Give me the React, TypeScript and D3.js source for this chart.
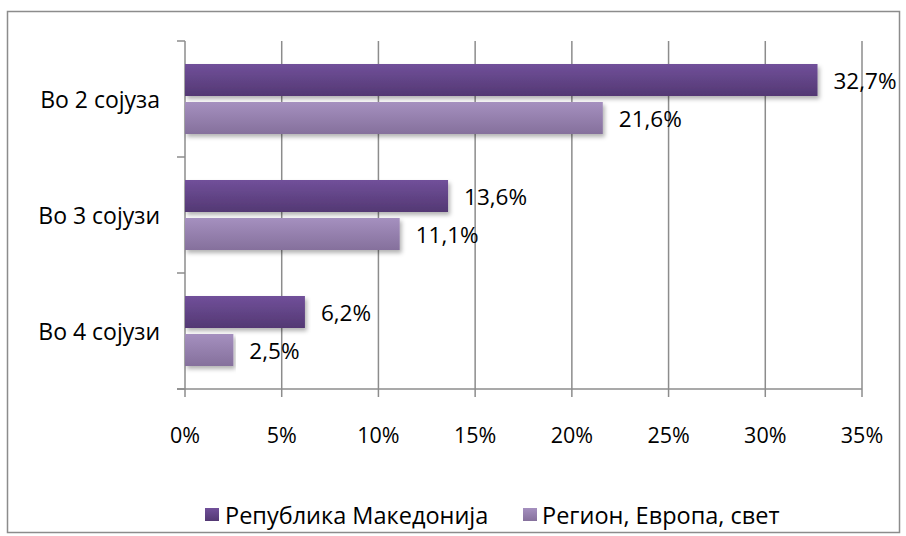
import React from "react";
import * as d3 from "d3";

const categories = ["Во 2 сојуза", "Во 3 сојузи", "Во 4 сојузи"];
const seriesNames = ["Република Македонија", "Регион, Европа, свет"];
const seriesMk = [32.7, 13.6, 6.2];
const seriesWorld = [21.6, 11.1, 2.5];
const valueLabelsMk = ["32,7%", "13,6%", "6,2%"];
const valueLabelsWorld = ["21,6%", "11,1%", "2,5%"];
const xTicks = [0, 5, 10, 15, 20, 25, 30, 35];

const W = 906, H = 536;
const left = 185, right = 862, top = 41, bottom = 389;
const font = "Open Sans, 'Noto Sans', sans-serif";

export default function App() {
  const x = d3.scaleLinear().domain([0, 35]).range([left, right]);
  const y = d3.scaleBand<string>().domain(categories).range([top, bottom]).paddingInner(0).paddingOuter(0);
  const bw = y.bandwidth();
  const barH = 32;
  const gap = 6;
  const series = [
    { vals: seriesMk, labels: valueLabelsMk, grad: "gMk" },
    { vals: seriesWorld, labels: valueLabelsWorld, grad: "gW" },
  ];
  const grid = "#8c8c8c";
  return (
    <svg width={W} height={H} style={{ position: "absolute", left: 0, top: 0 }}>
      <defs>
        <linearGradient id="gMk" x1="0" y1="0" x2="0" y2="1">
          <stop offset="0" stopColor="#71509a" />
          <stop offset="1" stopColor="#533873" />
        </linearGradient>
        <linearGradient id="gW" x1="0" y1="0" x2="0" y2="1">
          <stop offset="0" stopColor="#a590bf" />
          <stop offset="1" stopColor="#85709c" />
        </linearGradient>
        <linearGradient id="lMk" x1="0" y1="0" x2="0" y2="1">
          <stop offset="0" stopColor="#71509a" />
          <stop offset="1" stopColor="#533873" />
        </linearGradient>
        <filter id="sh" x="-5%" y="-30%" width="110%" height="170%">
          <feDropShadow dx="2" dy="3" stdDeviation="2" floodColor="#000" floodOpacity="0.3" />
        </filter>
      </defs>
      <rect x={7.5} y={11.5} width={892} height={521} fill="white" stroke="#8c8c8c" strokeWidth={1.5} />
      {xTicks.map((t) => (
        <line key={"g" + t} x1={x(t)} x2={x(t)} y1={top} y2={bottom + 8} stroke={grid} strokeWidth={1.5} />
      ))}
      <line x1={left - 8} x2={right} y1={bottom} y2={bottom} stroke={grid} strokeWidth={1.5} />
      {[0, 1, 2, 3].map((i) => (
        <line key={"yt" + i} x1={left - 8} x2={left} y1={top + i * bw} y2={top + i * bw} stroke={grid} strokeWidth={1.5} />
      ))}
      {categories.map((c) => {
        const y0 = (y(c) as number) + (bw - (2 * barH + gap)) / 2;
        return series.map((s, si) => {
          const v = s.vals[categories.indexOf(c)];
          const by = y0 + si * (barH + gap);
          return (
            <g key={c + si}>
              <rect x={x(0)} y={by} width={x(v) - x(0)} height={barH} fill={`url(#${s.grad})`} filter="url(#sh)" />
              <text x={x(v) + 16} y={by + barH / 2} dominantBaseline="central" fontFamily={font} fontSize={22.5} fill="#000">
                {s.labels[categories.indexOf(c)]}
              </text>
            </g>
          );
        });
      })}
      {categories.map((c) => (
        <text key={c} x={160} y={(y(c) as number) + bw / 2} textAnchor="end" dominantBaseline="central" fontFamily={font} fontSize={23}>
          {c}
        </text>
      ))}
      {xTicks.map((t) => (
        <text key={"t" + t} x={x(t)} y={434} textAnchor="middle" dominantBaseline="central" fontFamily={font} fontSize={21.5}>
          {t + "%"}
        </text>
      ))}
      <rect x={205} y={508} width={14} height={13} fill="url(#lMk)" />
      <text x={225} y={515} dominantBaseline="central" fontFamily={font} fontSize={23.5}>{seriesNames[0]}</text>
      <rect x={523} y={508} width={14} height={13} fill="url(#gW)" />
      <text x={542} y={515} dominantBaseline="central" fontFamily={font} fontSize={23.5}>{seriesNames[1]}</text>
    </svg>
  );
}
